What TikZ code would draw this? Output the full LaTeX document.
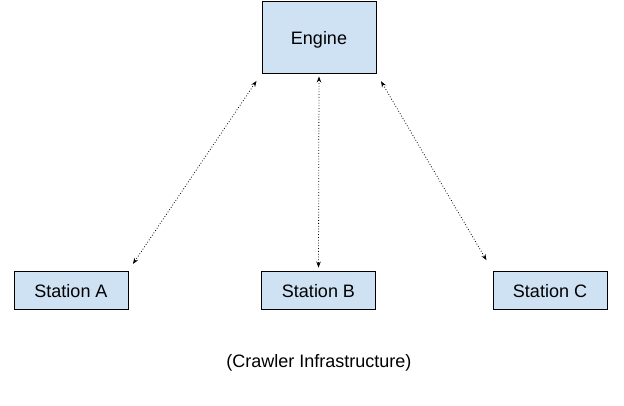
\documentclass[tikz,border=0pt]{standalone}
\usepackage{fontspec}
\setmainfont{Liberation Sans}
\usetikzlibrary{arrows.meta}
\definecolor{boxfill}{HTML}{CFE2F3}
\tikzset{
  txt/.style={font=\fontsize{18}{20}\selectfont, text height=15.6pt, text depth=0pt},
  box/.style={txt, draw=black, fill=boxfill, line width=0.9pt, inner sep=0pt},
  link/.style={dotted, line width=0.8pt, {Stealth[length=6pt,width=4.5pt]}-{Stealth[length=6pt,width=4.5pt]}}
}
\begin{document}
\begin{tikzpicture}[x=1pt,y=-1pt]
\useasboundingbox (0,0) rectangle (624,405);
\node[box, minimum width=114pt, minimum height=72pt] (E) at (319,37) {Engine};
\node[box, minimum width=114pt, minimum height=38pt] (A) at (71,290) {Station A};
\node[box, minimum width=114pt, minimum height=38pt] (B) at (318.5,290) {Station B};
\node[box, minimum width=114pt, minimum height=38pt] (C) at (550,290) {Station C};
\node[txt, inner sep=0pt] (T) at (319,359.7) {(Crawler Infrastructure)};
\draw[link, shorten <=9pt, shorten >=8pt] (E.south west) -- (A.north east);
\draw[link, shorten <=3pt, shorten >=3pt] (E.south) -- (B.north);
\draw[link, shorten <=9pt, shorten >=12pt] (E.south east) -- (C.north west);
\end{tikzpicture}
\end{document}
